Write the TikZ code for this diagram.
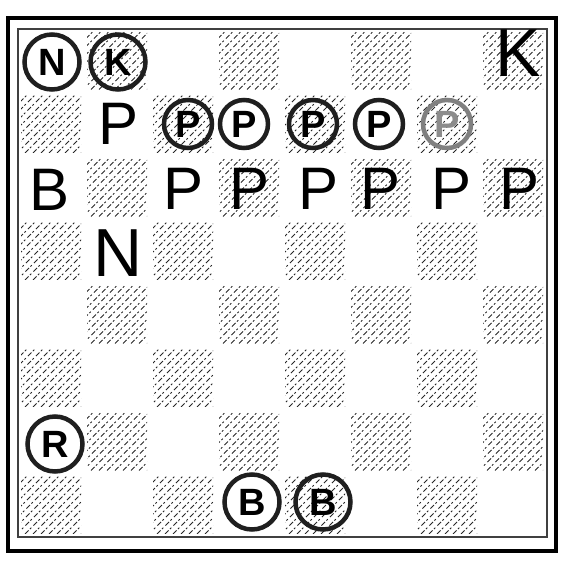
\documentclass[tikz,border=0pt]{standalone}
\usepackage{fontspec}
\setmainfont{Liberation Sans}
\begin{document}
\begin{tikzpicture}[x=1pt,y=-1pt,
  hatchline/.style={black!85, line width=1pt, dash pattern=on 5pt off 2pt on 2pt off 3pt},
  plainpiece/.style={inner sep=0pt, font=\fontsize{60}{60}\selectfont},
  bigpiece/.style={inner sep=0pt, font=\fontsize{68}{68}\selectfont},
  ringpiece/.style={draw=black!88, line width=4.5pt, circle, minimum size=55pt, inner sep=0pt, font=\bfseries\fontsize{38}{38}\selectfont},
  faintring/.style={ringpiece, draw=black!50, text=black!45},
  outerframe/.style={line width=3.6pt, black},
  innerframe/.style={line width=1.2pt, black!75}]
\useasboundingbox (0,0) rectangle (563,561);
% dark squares with hatching
\foreach \row in {1,...,8}{
  \foreach \col in {1,...,8}{
    \pgfmathtruncatemacro{\odd}{mod(\row+\col,2)}
    \ifnum\odd=1
      \pgfmathsetmacro{\xa}{18+66*(\col-1)+3}
      \pgfmathsetmacro{\ya}{29+63.5*(\row-1)+3}
      \pgfmathsetmacro{\xb}{\xa+60}
      \pgfmathsetmacro{\yb}{\ya+57.5}
      \begin{scope}
        \clip (\xa,\ya) rectangle (\xb,\yb);
        \foreach \k in {-68,-60,...,68}{
          \draw[hatchline] (\xa+\k,\yb) -- ++(70,-70);
        }
      \end{scope}
    \fi
  }
}
% frames
\draw[outerframe] (8,18) rectangle (556,551);
\draw[innerframe] (18,29) rectangle (547,537);
% row 1
\node[ringpiece] (n1) at (52,62) {N};
\node[ringpiece] (k1) at (118,62) {K};
\node[bigpiece] (k8) at (518,53) {K};
% row 2
\node[plainpiece] (p2b) at (119,124) {P};
\node[ringpiece, minimum size=48pt] (p2c) at (188,124) {P};
\node[ringpiece, minimum size=48pt] (p2d) at (244,124) {P};
\node[ringpiece, minimum size=48pt] (p2e) at (313,124) {P};
\node[ringpiece, minimum size=48pt] (p2f) at (379,124) {P};
\node[faintring, minimum size=48pt] (p2g) at (447,124) {P};
% row 3
\node[plainpiece] (b3a) at (50,190) {B};
\node[plainpiece] (p3c) at (184,189) {P};
\node[plainpiece] (p3d) at (250,189) {P};
\node[plainpiece] (p3e) at (319,189) {P};
\node[plainpiece] (p3f) at (381,189) {P};
\node[plainpiece] (p3g) at (452,189) {P};
\node[plainpiece] (p3h) at (520,189) {P};
% row 4
\node[bigpiece] (n4b) at (118,253) {N};
% row 7
\node[ringpiece] (r7a) at (55,444) {R};
% row 8
\node[ringpiece] (b8d) at (252,502) {B};
\node[ringpiece] (b8e) at (323,502) {B};
\end{tikzpicture}
\end{document}
